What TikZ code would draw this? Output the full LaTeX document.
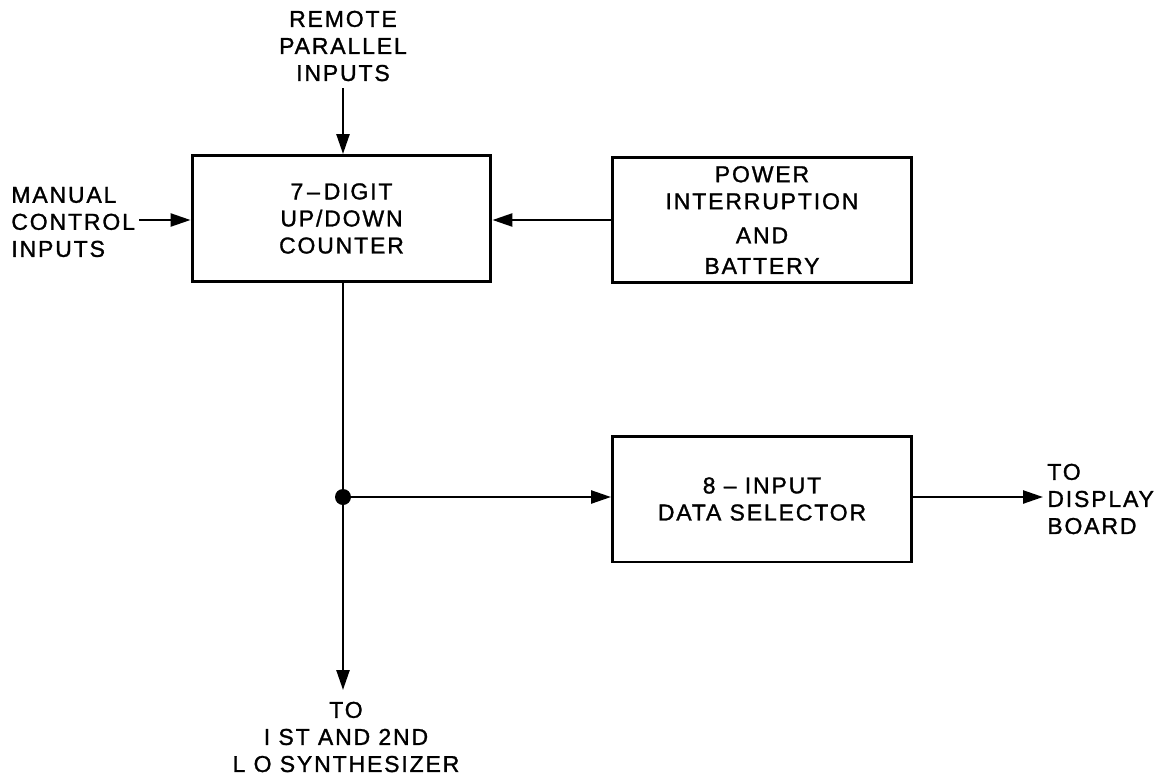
\documentclass[tikz,border=0pt]{standalone}
\usepackage{fontspec}
\setmainfont{Liberation Sans}[LetterSpace=8,FakeBold=1.2]
\usetikzlibrary{arrows.meta}
\tikzset{
  blk/.style={draw, line width=1.7pt, minimum width=5.98cm, minimum height=2.52cm, inner sep=0pt, align=center, font=\lbl},
  lab/.style={inner sep=0pt, font=\lbl},
  conn/.style={line width=1.4pt, -{Triangle[length=0.4cm,width=0.26cm]}},
  wire/.style={line width=1.4pt},
}
\newcommand{\lbl}{\fontsize{13.1}{15.4}\selectfont}
\begin{document}
\begin{tikzpicture}[x=0.02cm,y=-0.02cm]
\useasboundingbox[fill=white] (0,0) rectangle (1161,778);
\node[blk] (cnt) at (341.5,218.5) {7\,--\,DIGIT\\UP/DOWN\\COUNTER};
\node[blk] (pwr) at (762,220) {POWER\\INTERRUPTION\\[4pt]AND\\[2pt]BATTERY};
\node[blk] (sel) at (762,499) {8 -- INPUT\\DATA SELECTOR};
\node[lab, align=center] (rem) at (343,46) {REMOTE\\PARALLEL\\INPUTS};
\node[lab, align=left, anchor=west] (man) at (11,222) {MANUAL\\CONTROL\\INPUTS};
\node[lab, align=left, anchor=west] (disp) at (1047,499) {TO\\DISPLAY\\BOARD};
\node[lab, align=center] (lo) at (346,737) {TO\\I ST AND 2ND\\L O SYNTHESIZER};
\coordinate (dot) at (343,497);
\coordinate (remend) at (343,88);
\coordinate (manend) at (139,220);
\coordinate (dispend) at (1043,497);
\coordinate (loend) at (343,690);
\draw[conn] (remend) -- (remend |- cnt.north);
\draw[conn] (manend) -- (manend -| cnt.west);
\draw[conn] (pwr.west |- 0,220) -- (cnt.east |- 0,220);
\draw[wire] (dot |- cnt.south) -- (dot);
\draw[conn] (dot) -- (loend);
\draw[conn] (dot) -- (dot -| sel.west);
\draw[conn] (dot -| sel.east) -- (dispend);
\fill (dot) circle (8);
\end{tikzpicture}
\end{document}
